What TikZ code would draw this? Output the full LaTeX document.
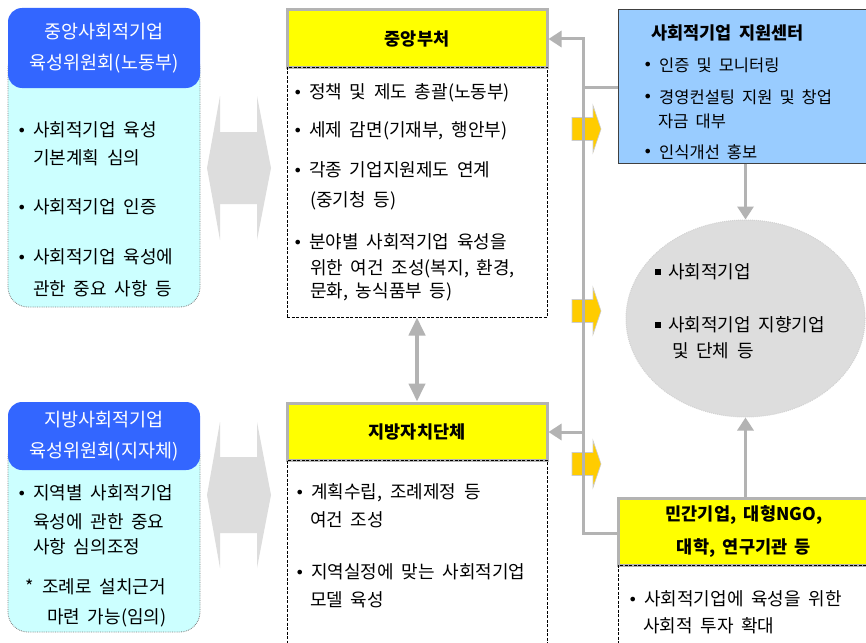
\documentclass[tikz,border=0pt]{standalone}
\usepackage{fontspec}
\setmainfont{Noto Sans CJK KR}[WordSpace=1.9]
\newfontfamily\dejavu{DejaVu Sans}
\usetikzlibrary{arrows.meta,shapes.geometric}
\definecolor{hblue}{HTML}{3366FF}
\definecolor{lcyan}{HTML}{CCFFFF}
\definecolor{hyellow}{HTML}{FFFF00}
\definecolor{lgray}{HTML}{B3B3B3}
\definecolor{bgray}{HTML}{DDDDDD}
\definecolor{sblue}{HTML}{99CCFF}
\definecolor{orng}{HTML}{FFCC00}
\newcommand\mybul{\makebox[16pt][l]{\dejavu\fontsize{16}{16}\selectfont\raisebox{0.5pt}{•}}}
\newcommand\mysq{\makebox[13pt][l]{\raisebox{3.8pt}{\rule{6pt}{6pt}}}}
\tikzset{
  tx/.style={anchor=west, inner sep=0pt, font=\fontsize{18}{20}\selectfont, text height=15.84pt, text depth=2.16pt},
  txs/.style={anchor=west, inner sep=0pt, font=\fontsize{16.5}{18}\selectfont, text height=14.5pt, text depth=2pt},
  lbody/.style={draw=gray, densely dotted, line width=0.8pt, fill=lcyan, rounded corners=20pt},
  lhead/.style={fill=hblue, rounded corners=14pt, text=white, align=center, font=\fontsize{18.5}{31}\selectfont},
  yhead/.style={fill=hyellow, draw=lgray, line width=3pt, align=center, font=\bfseries\fontsize{17.5}{33}\selectfont},
  dbody/.style={draw=black, dash pattern=on 3pt off 1.5pt, line width=1pt},
  gline/.style={draw=lgray, line width=3pt},
  garrow/.style={draw=lgray, line width=3pt, -{Triangle[width=16pt,length=13pt]}},
  gdarrow/.style={draw=lgray, line width=4pt, {Triangle[width=16pt,length=18pt]}-{Triangle[width=16pt,length=18pt]}},
  oarrow/.style={fill=orng, draw=black!20, line width=0.6pt},
  bigarrow/.style={fill=bgray},
}
\begin{document}
\begin{tikzpicture}[x=1pt,y=-1pt]
\useasboundingbox (0,0) rectangle (866,642);
\clip (0,0) rectangle (866,642);
\fill[white] (0,0) rectangle (866,642);

% ---------- left committees ----------
\node[lbody, minimum width=192pt, minimum height=259pt] (lb1) at (104,177.5) {};
\node[lhead, minimum width=192pt, minimum height=80pt] (lh1) at (104,48) {중앙사회적기업\\육성위원회(노동부)};
\node[tx] (a1) at (17,130) {\mybul 사회적기업 육성};
\node[tx] (a2) at (33,158) {기본계획 심의};
\node[tx] (a3) at (17,207) {\mybul 사회적기업 인증};
\node[tx] (a4) at (17,257) {\mybul 사회적기업 육성에};
\node[tx] (a5) at (33,289) {관한 중요 사항 등};

\node[lbody, minimum width=192pt, minimum height=196pt] (lb2) at (104,534) {};
\node[lhead, minimum width=192pt, minimum height=68pt] (lh2) at (104,436) {지방사회적기업\\육성위원회(지자체)};
\node[tx] (b1) at (17,493) {\mybul 지역별 사회적기업};
\node[tx] (b2) at (33,522) {육성에 관한 중요};
\node[tx] (b3) at (33,547) {사항 심의조정};
\node[tx] (b4) at (25,587) {\makebox[17pt][l]{*}조례로 설치근거};
\node[tx] (b5) at (47,617) {마련 가능(임의)};

% ---------- big grey double arrows ----------
\fill[bigarrow] (207,168) -- (220,96) -- (220,132) -- (257,132) -- (257,96) -- (271,168)
  -- (257,240) -- (257,204) -- (220,204) -- (220,240) -- cycle;
\fill[bigarrow] (207,495) -- (220,422) -- (220,457) -- (257,457) -- (257,422) -- (271,495)
  -- (257,568) -- (257,533) -- (220,533) -- (220,568) -- cycle;

% ---------- central ministries ----------
\node[yhead, minimum width=260pt, minimum height=57pt] (ch) at (417,38.5) {중앙부처};
\node[dbody, minimum width=260pt, minimum height=250pt] (cb) at (417,192) {};
\node[tx] (c1) at (293,92) {\mybul 정책 및 제도 총괄(노동부)};
\node[tx] (c2) at (293,130) {\mybul 세제 감면(기재부, 행안부)};
\node[tx] (c3) at (293,170) {\mybul 각종 기업지원제도 연계};
\node[tx] (c4) at (310,200) {(중기청 등)};
\node[tx] (c5) at (293,242) {\mybul 분야별 사회적기업 육성을};
\node[tx] (c6) at (310,268) {위한 여건 조성(복지, 환경,};
\node[tx] (c7) at (310,291) {문화, 농식품부 등)};

% ---------- local government ----------
\node[yhead, minimum width=260pt, minimum height=57pt] (lh) at (417,431.5) {지방자치단체};
\node[dbody, minimum width=260pt, minimum height=240pt] (lbd) at (417,580) {};
\node[tx] (d1) at (295,492) {\mybul 계획수립, 조례제정 등};
\node[tx] (d2) at (310,520) {여건 조성};
\node[tx] (d3) at (295,572) {\mybul 지역실정에 맞는 사회적기업};
\node[tx] (d4) at (310,600) {모델 육성};

% ---------- support centre ----------
\node[fill=sblue, draw=black!75, line width=1pt, minimum width=252pt, minimum height=153pt] (sc) at (744,86.5) {};
\node[anchor=west, inner sep=0pt, font=\bfseries\fontsize{17.5}{20}\selectfont] (s0) at (651,33) {사회적기업 지원센터};
\node[txs] (s1) at (643,65) {\mybul 인증 및 모니터링};
\node[txs] (s2) at (643,97) {\mybul 경영컨설팅 지원 및 창업};
\node[txs] (s3) at (658,121) {자금 대부};
\node[txs] (s4) at (643,152) {\mybul 인식개선 홍보};

% ---------- social enterprises ellipse ----------
\node[ellipse, fill=bgray, draw=gray!35, densely dotted, line width=1pt, minimum width=239pt, minimum height=197pt] (el) at (745.5,318.5) {};
\node[tx] (e1) at (655,272) {\mysq 사회적기업};
\node[tx] (e2) at (655,325) {\mysq 사회적기업 지향기업};
\node[tx] (e3) at (672,351) {및 단체 등};

% ---------- private sector ----------
\node[yhead, minimum width=252pt, minimum height=67pt] (pb) at (744,531.5) {민간기업, 대형NGO,\\대학, 연구기관 등};
\node[dbody, minimum width=252pt, minimum height=140pt] (pbd) at (744,635) {};
\node[tx] (p1) at (628,599) {\mybul 사회적기업에 육성을 위한};
\node[tx] (p2) at (643,626) {사회적 투자 확대};

% ---------- orange block arrows ----------
\foreach \c/\n in {129/o1,311/o2,464/o3}{
  \fill[oarrow] (572,\c-11.5) -- (593,\c-11.5) -- (593,\c-23.5) -- (601,\c) -- (593,\c+23.5)
    -- (593,\c+11.5) -- (572,\c+11.5) -- cycle;
}

% ---------- connectors ----------
\coordinate (j1) at (583,39);
\coordinate (j2) at (583,87);
\coordinate (j3) at (583,432);
\coordinate (j4) at (583,533);
\draw[garrow] (pb.west |- j4) -- (j4) -- (j1) -- (ch.east |- j1);
\draw[gline] (sc.west |- j2) -- (j2);
\draw[garrow] (j3) -- (lh.east |- j3);
\draw[gdarrow] (cb.south) -- (lh.north);
\draw[garrow] (el.north |- sc.south) -- (el.north);
\draw[garrow] (el.south |- pb.north) -- (el.south);
\end{tikzpicture}
\end{document}
